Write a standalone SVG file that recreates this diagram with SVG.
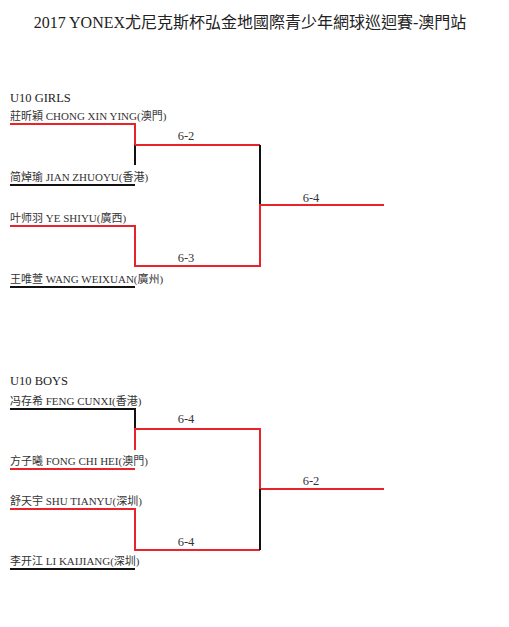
<svg xmlns="http://www.w3.org/2000/svg" width="509" height="627" viewBox="0 0 509 627">
<style>
text { font-family: "Liberation Serif", "Noto Sans CJK TC", serif; fill: #222; }
.title { font-size: 16px; }
.head { font-size: 12.5px; }
.name { font-size: 11px; fill: #333; }
.score { font-size: 12.5px; text-anchor: middle; fill: #333; }
.r { stroke: #e8242a; stroke-width: 2; fill: none; }
.k { stroke: #111; stroke-width: 2; fill: none; }
</style>
<rect width="509" height="627" fill="#fff"/>
<text class="title" x="250" y="28" text-anchor="middle">2017 YONEX尤尼克斯杯弘金地國際青少年網球巡迴賽-澳門站</text>

<g id="girls">
<text class="head" x="10" y="102">U10 GIRLS</text>
<g id="g-p1"><text class="name" x="10" y="120">莊昕穎 CHONG XIN YING(澳門)</text></g>
<g id="g-p2"><text class="name" x="10" y="181">简焯瑜 JIAN ZHUOYU(香港)</text></g>
<g id="g-p3"><text class="name" x="10" y="222">叶师羽 YE SHIYU(廣西)</text></g>
<g id="g-p4"><text class="name" x="10" y="283">王唯萱 WANG WEIXUAN(廣州)</text></g>
</g>

<g id="boys">
<text class="head" x="10" y="385">U10 BOYS</text>
<g id="b-p1"><text class="name" x="10" y="405">冯存希 FENG CUNXI(香港)</text></g>
<g id="b-p2"><text class="name" x="10" y="465">方子曦 FONG CHI HEI(澳門)</text></g>
<g id="b-p3"><text class="name" x="10" y="505">舒天宇 SHU TIANYU(深圳)</text></g>
<g id="b-p4"><text class="name" x="10" y="565">李开江 LI KAIJIANG(深圳)</text></g>
</g>

<g id="connectors">
<!-- girls -->
<path class="r" d="M10 124 H135 V145"/>
<path class="k" d="M135 145 V165"/>
<path class="k" d="M10 185 H135"/>
<path class="r" d="M135 145 H260"/>
<path class="k" d="M260 145 V205"/>
<path class="r" d="M10 226 H135 V266 H260 V205 H384"/>
<path class="k" d="M10 287 H135"/>
<!-- boys -->
<path class="k" d="M10 409 H135 V429"/>
<path class="r" d="M135 450 V429 H260 V489 H384"/>
<path class="r" d="M10 469 H135"/>
<path class="r" d="M10 509 H135 V550 H260"/>
<path class="k" d="M260 489 V550"/>
<path class="k" d="M10 569 H135"/>
</g>

<g id="scores">
<text class="score" x="186" y="140">6-2</text>
<text class="score" x="311" y="202">6-4</text>
<text class="score" x="186" y="262">6-3</text>
<text class="score" x="186" y="423">6-4</text>
<text class="score" x="311" y="485">6-2</text>
<text class="score" x="186" y="546">6-4</text>
</g>
</svg>
